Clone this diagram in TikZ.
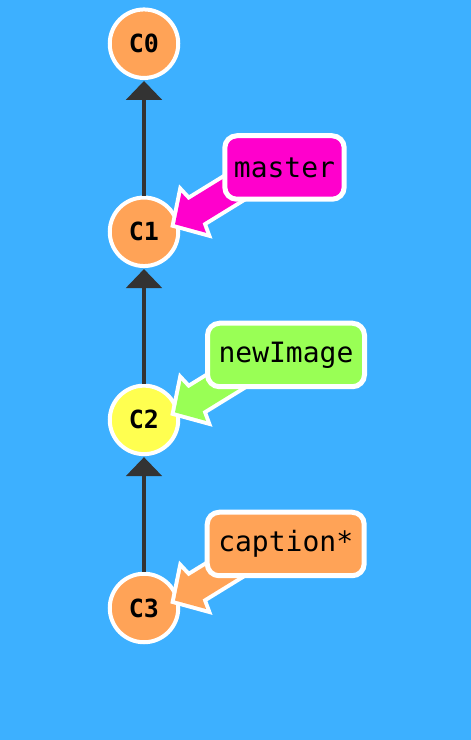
\documentclass[tikz,border=0pt]{standalone}
\usepackage{fontspec}
\setmonofont{DejaVu Sans Mono}
\usetikzlibrary{arrows.meta,calc}
\definecolor{bg}{RGB}{61,176,255}
\definecolor{corange}{RGB}{255,163,87}
\definecolor{cyellow}{RGB}{255,255,80}
\definecolor{cmagenta}{RGB}{255,0,204}
\definecolor{cgreen}{RGB}{153,255,85}
\definecolor{edgegray}{RGB}{51,51,51}
\tikzset{
  commit/.style={circle, draw=white, line width=4pt, minimum size=68.5pt, inner sep=0pt,
    font=\fontsize{25}{25}\selectfont\ttfamily\bfseries},
  parentedge/.style={draw=edgegray, line width=4pt, shorten >=1pt,
    -{Triangle[length=19pt,width=35.5pt]}},
  branchbox/.style={rectangle, rounded corners=12pt, draw=white, line width=5pt,
    minimum height=63.5pt, inner sep=0pt, font=\fontsize{28}{28}\selectfont\ttfamily},
  fatoutline/.style={draw=white, line width=8pt, line join=miter},
}
\newcommand{\fatarrowshape}{(0,0) -- (-22,23.5) -- (-24,13.5) -- (-120,13.5) -- (-120,-13.5) -- (-24,-13.5) -- (-22,-23.5) -- cycle}
\begin{document}
\begin{tikzpicture}[x=1pt,y=1pt]
\fill[bg] (0,0) rectangle (471,740);
\useasboundingbox (0,0) rectangle (471,740);
% commits
\node[commit, fill=corange] (C0) at (144,696.3) {C0};
\node[commit, fill=corange] (C1) at (144,508.2) {C1};
\node[commit, fill=cyellow] (C2) at (144,320.1) {C2};
\node[commit, fill=corange] (C3) at (144,132) {C3};
% parent edges
\draw[parentedge] (C1.north) -- (C0.south);
\draw[parentedge] (C2.north) -- (C1.south);
\draw[parentedge] (C3.north) -- (C2.south);
% branch arrows
\begin{scope}[shift={($(C1.center)+(31,7.5)$)}, rotate=211.6]
  \draw[fatoutline] \fatarrowshape;
  \fill[cmagenta] \fatarrowshape;
\end{scope}
\begin{scope}[shift={($(C2.center)+(31,7.5)$)}, rotate=211.6]
  \draw[fatoutline] \fatarrowshape;
  \fill[cgreen] \fatarrowshape;
\end{scope}
\begin{scope}[shift={($(C3.center)+(31,7.5)$)}, rotate=211.6]
  \draw[fatoutline] \fatarrowshape;
  \fill[corange] \fatarrowshape;
\end{scope}
% branch labels
\node[branchbox, fill=cmagenta, minimum width=119.4pt] (master) at (284.5,572.5) {master};
\node[branchbox, fill=cgreen, minimum width=157pt] (newImage) at (286,385) {newImage};
\node[branchbox, fill=corange, minimum width=157pt] (caption) at (285.7,196) {caption*};
\end{tikzpicture}
\end{document}
